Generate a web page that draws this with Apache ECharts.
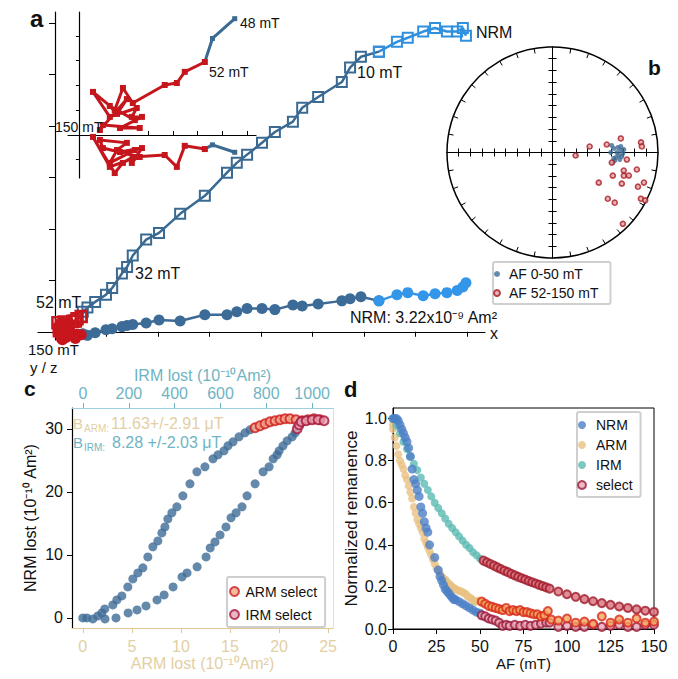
<!DOCTYPE html>
<html><head><meta charset="utf-8">
<script src="https://cdn.jsdelivr.net/npm/echarts/dist/echarts.min.js"></script>
<style>html,body{margin:0;padding:0;background:#fff}#c{width:678px;height:679px}</style>
</head><body><div id="c"></div>
<script>
// ---------- Panel a: Zijderveld (units: axis divisions) ----------
const xs = [7.98,7.92,7.81,7.61,7.38,7.15,6.85,6.64,6.29,5.94,5.73,5.57,5.11,4.80,4.62,4.27,4.02,3.73,3.53,3.34,2.91,2.43,2.02,1.77,1.51,1.40,1.30,1.11,0.99,0.78,0.63,0.54];
const zv = [5.75,5.90,5.83,5.83,5.90,5.83,5.71,5.63,5.44,5.34,5.13,4.85,4.56,4.35,4.08,3.88,3.67,3.44,3.28,3.09,2.64,2.29,1.92,1.79,1.48,1.26,1.13,0.85,0.72,0.58,0.47,0.39];
const yh = [0.95,0.87,0.80,0.76,0.74,0.70,0.76,0.72,0.60,0.68,0.64,0.60,0.54,0.50,0.52,0.43,0.45,0.45,0.39,0.33,0.33,0.21,0.23,0.17,0.14,0.12,0.10,0.06,0.04,-0.02,-0.07,-0.04];
const lightSteps = 9;
const redX = [0.509,0.428,0.396,0.347,0.218,0.178,0.145,0.057,0.125,0.234,0.214,0.255,0.166,0.246,0.097,0.085,0.194,0.154,0.125,0.226];
const redZ = [0.295,0.255,0.210,0.202,0.129,0.190,0.101,0.174,0.073,0.109,0.073,0.073,0.028,0.028,0.040,0.020,0.145,0.085,0.117,0.060];
const redY = [-0.057,-0.044,-0.129,-0.081,-0.089,-0.113,-0.154,-0.008,-0.129,-0.089,-0.113,-0.053,-0.069,-0.089,-0.053,-0.020,-0.032,-0.061,-0.113,-0.061];
const mainTicksX = [1,2,3,4,5,6,7,8];
const mainTicksY = [1,2,3,4,5,6];
const insetTicksX = [0.28,0.38,0.48,0.58,0.68];
const insetTicksY = [-0.1,0.1,0.2,0.3,0.4];

// ---------- Panel b: stereonet (declination, inclination) ----------
const blueDec = [86.2,85.6,88.3,92.6,94.5,95.6,85.0,90.8,90.0,96.0,90.0,83.2,93.3,97.4,99.5,87.6];
const blueInc = [37.6,34.1,31.7,33.4,35.8,37.5,31.5,30.0,35.1,32.3,40.3,39.1,30.8,36.4,37.9,29.1];
const redDec = [78.4,83.5,86.1,80.8,81.6,97.4,99.6,95.4,111.0,104.2,108.0,106.8,101.4,114.2,123.1,108.2,111.8,129.9,128.9,117.6,117.3,135.4];
const redInc = [30.5,14.0,13.6,57.9,43.2,70.1,38.7,26.3,34.9,27.3,26.0,22.0,16.6,25.2,42.9,7.9,11.5,28.5,21.8,4.9,1.0,4.5];
const stereoTicks = [-8,-7,-6,-5,-4,-3,-2,-1,1,2,3,4,5,6,7,8];

// ---------- Panel c ----------
const armLost = [0.0,0.41,1.02,1.53,1.94,2.24,3.06,3.47,3.98,4.59,5.10,5.61,6.12,6.63,7.14,7.65,8.06,8.37,8.67,9.08,9.59,10.20,10.92,11.63,12.45,13.27,13.78,14.39,14.80,15.31,15.92,16.53,17.04];
const nrmLostA = [0.0,0.0,-0.16,0.32,0.79,1.43,2.06,2.86,3.49,4.92,6.19,7.14,7.94,9.68,11.27,12.22,13.49,14.44,15.71,16.67,17.62,19.37,21.27,23.17,23.97,25.24,25.87,26.51,27.30,27.94,28.73,29.37,29.84];
const armSelX = [17.55,18.06,18.57,19.08,19.59,20.10,20.61,21.12,21.73,22.35,22.96,23.57,24.18];
const armSelY = [30.16,30.48,30.79,31.11,31.27,31.43,31.59,31.59,31.43,31.27,31.43,31.59,31.43];
const irmLost = [96,144,197,236,275,323,354,393,432,454,498,537,555,576,598,624,646,668,694,716,751,786,812,830,847,856,873,891,913,926];
const nrmLostI = [-0.16,0.0,0.79,1.27,1.90,2.86,3.65,4.92,6.51,7.14,8.10,9.68,11.11,12.06,13.17,14.44,15.87,16.67,17.62,19.37,21.27,23.17,23.97,25.24,25.87,26.51,27.30,28.10,28.73,29.37];
const irmSelX = [935,943,952,974,1000,1026,1052];
const irmSelY = [30.0,30.63,31.11,31.27,31.43,31.43,31.27];
const armTicks = [0,5,10,15,20,25];
const irmTicks = [0,200,400,600,800,1000];
const nrmTicks = [0,10,20,30];

// ---------- Panel d ----------
const dNrmAF = [0,1,2,3,4,5,6,7,8,9,10,11,12,13,14,15,16,17,18,19,20,21,24,26,27,28,29,30,31,32,33,34,35,36,38,40,42,44,46,48,50];
const dNrm = [1.0,1.0,1.0,0.99,0.97,0.95,0.93,0.91,0.89,0.86,0.82,0.76,0.71,0.69,0.66,0.63,0.58,0.55,0.51,0.48,0.46,0.40,0.34,0.28,0.25,0.23,0.21,0.19,0.18,0.17,0.16,0.15,0.14,0.14,0.13,0.12,0.11,0.10,0.09,0.08,0.075];
const dArmAF = [0,0,1,2,3,4,5,6,7,8,9,10,11,12,13,14,15,16,17,18,19,20,21,22,23,24,25,26,27,28,29,30,31,32,33,34,35,36,37,38,39,40,41,42,43,44,45,46,47,48,49,50];
const dArm = [0.97,0.95,0.91,0.87,0.83,0.80,0.78,0.76,0.73,0.71,0.68,0.65,0.62,0.58,0.55,0.52,0.50,0.48,0.46,0.43,0.41,0.39,0.37,0.35,0.33,0.31,0.29,0.28,0.265,0.25,0.24,0.235,0.225,0.215,0.21,0.20,0.195,0.19,0.185,0.18,0.18,0.175,0.17,0.165,0.155,0.15,0.145,0.135,0.13,0.13,0.135,0.13];
const dIrmAF = [0,2,4,6,8,10,12,14,16,18,20,22,24,26,28,30,32,34,36,38,40,42,44,46,48,50];
const dIrm = [1.00,0.965,0.93,0.89,0.855,0.82,0.785,0.755,0.72,0.69,0.66,0.63,0.60,0.575,0.55,0.525,0.50,0.48,0.46,0.44,0.42,0.40,0.385,0.365,0.35,0.335];
const dNrmSelAF = [51,53,55,57,59,61,63,65,67,70,73,76,79,82,85,88,90,95,100,105,110,115,120,125,130,135,140,145,150];
const dNrmSel = [0.065,0.06,0.05,0.045,0.04,0.03,0.015,0.02,0.015,0.02,0.015,0.02,0.015,0.02,0.025,0.03,0.03,0.01,0.015,0.01,0.01,0.02,0.01,0.015,0.02,0.01,0.01,0.02,0.02];
const dArmSelAF = [51,53,55,57,59,61,63,65,67,69,71,73,75,77,79,81,83,85,87,89,91,95,100,105,110,115,120,125,130,135,140,145,150];
const dArmSel = [0.13,0.12,0.11,0.105,0.1,0.095,0.09,0.1,0.085,0.09,0.085,0.09,0.08,0.08,0.075,0.07,0.07,0.06,0.065,0.085,0.045,0.04,0.05,0.03,0.035,0.025,0.06,0.03,0.045,0.03,0.05,0.03,0.035];
const dIrmSelAF = [52,54,56,58,60,62,64,66,68,70,72,74,76,78,80,82,84,86,88,90,95,100,105,110,115,120,125,130,135,140,145,150];
const dIrmSel = [0.325,0.317,0.309,0.301,0.293,0.285,0.277,0.27,0.262,0.255,0.248,0.241,0.235,0.228,0.222,0.216,0.21,0.204,0.198,0.192,0.178,0.165,0.153,0.142,0.132,0.123,0.115,0.107,0.1,0.093,0.087,0.081];
const dYTicks = [0,0.2,0.4,0.6,0.8,1.0];

// ---------- build ----------
const zip = (a,b) => a.map((v,i)=>[v,b[i]]);
const FONT = 'Liberation Sans, Arial, sans-serif';
const darkSq = '#3a6a92', lightSq = '#2f90e0', darkCi = '#3d6b97', lightCi = '#3396e8', RED = '#c8161d';
const TAN = '#e2c994', TANT = '#e3cfa3', TEAL = '#6fb4c3';
const NONE = 'rgba(255,255,255,0)';
const n = xs.length;

function hideAx(o){return Object.assign({type:'value',axisLabel:{show:false},splitLine:{show:false}},o);}

const vert = zip(xs,zv), horiz = zip(xs,yh);
const redV = zip(redX,redZ), redH = zip(redX,redY);

const series = [
  // main panel a
  {type:'line',xAxisIndex:0,yAxisIndex:0,data:vert.slice(lightSteps-1).concat([redV[0]]),symbol:'rect',symbolSize:10,
   lineStyle:{color:darkSq,width:2.5},itemStyle:{color:NONE,borderColor:darkSq,borderWidth:2}},
  {type:'line',xAxisIndex:0,yAxisIndex:0,data:vert.slice(0,lightSteps),symbol:'rect',symbolSize:10,
   lineStyle:{color:lightSq,width:2.5},itemStyle:{color:NONE,borderColor:lightSq,borderWidth:2}},
  {type:'line',xAxisIndex:0,yAxisIndex:0,data:horiz.slice(lightSteps-1).concat([redH[0]]),symbol:'circle',symbolSize:11,
   lineStyle:{color:darkCi,width:2.5},itemStyle:{color:darkCi}},
  {type:'line',xAxisIndex:0,yAxisIndex:0,data:horiz.slice(0,lightSteps),symbol:'circle',symbolSize:11,
   lineStyle:{color:lightCi,width:2.5},itemStyle:{color:lightCi}},
  {type:'line',xAxisIndex:0,yAxisIndex:0,data:redH,symbol:'circle',symbolSize:11,
   lineStyle:{color:RED,width:3},itemStyle:{color:RED}},
  {type:'line',xAxisIndex:0,yAxisIndex:0,data:redV,symbol:'rect',symbolSize:11,
   lineStyle:{color:RED,width:3},itemStyle:{color:NONE,borderColor:RED,borderWidth:2.5}},
  // inset
  {type:'line',xAxisIndex:1,yAxisIndex:1,data:[vert[n-2],vert[n-1],redV[0]],symbol:'rect',symbolSize:5,
   lineStyle:{color:darkSq,width:3},itemStyle:{color:darkSq}},
  {type:'line',xAxisIndex:1,yAxisIndex:1,data:[horiz[n-2],horiz[n-1],redH[0]],symbol:'rect',symbolSize:5,
   lineStyle:{color:darkSq,width:3},itemStyle:{color:darkSq}},
  {type:'line',xAxisIndex:1,yAxisIndex:1,data:redV,symbol:'rect',symbolSize:6,
   lineStyle:{color:'#c4161c',width:3},itemStyle:{color:'#c4161c'}},
  {type:'line',xAxisIndex:1,yAxisIndex:1,data:redH,symbol:'rect',symbolSize:6,
   lineStyle:{color:'#c4161c',width:3},itemStyle:{color:'#c4161c'}},
  // stereonet
  {name:'AF 0-50 mT',type:'scatter',coordinateSystem:'polar',polarIndex:0,data:zip(blueInc,blueDec),symbolSize:5,
   itemStyle:{color:'#3f6c95'}},
  {name:'AF 52-150 mT',type:'scatter',coordinateSystem:'polar',polarIndex:0,data:zip(redInc,redDec),symbolSize:5,
   itemStyle:{color:'#e7a3a3',borderColor:'#a81c24',borderWidth:1.6}},
  // panel c
  {name:'ARM curve',type:'scatter',xAxisIndex:4,yAxisIndex:4,data:zip(armLost,nrmLostA),symbolSize:9,itemStyle:{color:'#3d6b96'}},
  {name:'IRM curve',type:'scatter',xAxisIndex:5,yAxisIndex:4,data:zip(irmLost,nrmLostI),symbolSize:9,itemStyle:{color:'#3d6b96'}},
  {name:'ARM select',type:'scatter',xAxisIndex:4,yAxisIndex:4,data:zip(armSelX,armSelY),symbolSize:9,
   itemStyle:{color:'#f2a88c',borderColor:'#cf1c1c',borderWidth:2}},
  {name:'IRM select',type:'scatter',xAxisIndex:5,yAxisIndex:4,data:zip(irmSelX,irmSelY),symbolSize:9,
   itemStyle:{color:'#e8a3b2',borderColor:'#a5163e',borderWidth:2}},
  // panel d
  {name:'ARM',type:'scatter',xAxisIndex:6,yAxisIndex:6,data:zip(dArmAF,dArm),symbolSize:8,itemStyle:{color:'#e8c283'}},
  {name:'IRM',type:'scatter',xAxisIndex:6,yAxisIndex:6,data:zip(dIrmAF,dIrm),symbolSize:8,itemStyle:{color:'#5dbab3'}},
  {name:'NRM',type:'scatter',xAxisIndex:6,yAxisIndex:6,data:zip(dNrmAF,dNrm),symbolSize:9,itemStyle:{color:'#4c7fc6'}},
  {name:'select',type:'scatter',xAxisIndex:6,yAxisIndex:6,data:zip(dNrmSelAF,dNrmSel),symbolSize:8,
   itemStyle:{color:'#eba6b6',borderColor:'#9a1b3b',borderWidth:2}},
  {name:'select',type:'scatter',xAxisIndex:6,yAxisIndex:6,data:zip(dArmSelAF,dArmSel),symbolSize:8,
   itemStyle:{color:'#f4a55e',borderColor:'#d82a1c',borderWidth:2}},
  {name:'select',type:'scatter',xAxisIndex:6,yAxisIndex:6,data:zip(dIrmSelAF,dIrmSel),symbolSize:8,
   itemStyle:{color:'#d9717c',borderColor:'#a01b2b',borderWidth:2}}
];

function txt(x,y,s,size,o){o=o||{};return {type:'text',x:x,y:y,z:100,style:{text:s,fontSize:size,fontFamily:FONT,
  fontWeight:o.w||'normal',fill:o.c||'#111',align:o.a||'left',verticalAlign:'middle'}};}

const graphics = [
  txt(30,18,'a',24,{w:'bold'}), txt(648,67,'b',21,{w:'bold'}), txt(24,388,'c',21,{w:'bold'}), txt(344,389,'d',22,{w:'bold'}),
  txt(240,23,'48 mT',14), txt(209,72,'52 mT',14), txt(55,127,'150 mT',14),
  txt(476,32,'NRM',16), txt(357,72,'10 mT',16), txt(135,273,'32 mT',16), txt(36,302,'52 mT',16),
  txt(28,349,'150 mT',15), txt(30,367,'y / z',15), txt(490,333,'x',16),
  txt(497,317,'NRM: 3.22x10\u207B\u2079 Am\u00B2',16,{a:'right'}),
  txt(73,423,'B',15,{c:TANT}), txt(84,428,'ARM:',10,{c:TANT}), txt(111,423,'11.63+/-2.91 \u03BCT',16,{c:TANT}),
  txt(73,442,'B',15,{c:TEAL}), txt(84,447,'IRM:',10,{c:TEAL}), txt(112,442,'8.28 +/-2.03 \u03BCT',16,{c:TEAL})
];

const legBase = {orient:'vertical',icon:'circle',borderColor:'#cfcfcf',borderWidth:2,borderRadius:2,backgroundColor:'#fff',
  textStyle:{fontSize:14,fontFamily:FONT,color:'#111'},selectedMode:false};

const option = {
  animation:false, backgroundColor:'#fff', textStyle:{fontFamily:FONT},
  grid:[
    {left:38,top:12,width:447,height:328},
    {left:68,top:12,width:188,height:166},
    {left:447,top:47,width:211,height:211},
    {left:72,top:408,width:261,height:220},
    {left:393,top:408,width:261,height:221,show:true,borderColor:'#000',borderWidth:1}
  ],
  polar:{center:[552.5,152.5],radius:105.5},
  angleAxis:{type:'value',min:0,max:360,interval:10,startAngle:90,clockwise:true,
    axisLine:{lineStyle:{color:'#000',width:1.5}},axisTick:{inside:true,length:5,lineStyle:{color:'#000'}},
    axisLabel:{show:false},splitLine:{show:false}},
  radiusAxis:{type:'value',min:0,max:90,inverse:true,axisLine:{show:false},axisTick:{show:false},axisLabel:{show:false},splitLine:{show:false}},
  xAxis:[
    hideAx({gridIndex:0,min:-0.33,max:8.35,axisLine:{onZero:true,lineStyle:{color:'#000',width:1.2}},
      axisTick:{customValues:mainTicksX,length:5,lineStyle:{color:'#000'}}}),
    hideAx({gridIndex:1,min:-0.044,max:0.716,axisLine:{onZero:true,lineStyle:{color:'#000',width:1.2}},
      axisTick:{customValues:insetTicksX,inside:true,length:4,lineStyle:{color:'#000'}}}),
    hideAx({gridIndex:2,min:-9,max:9,position:'bottom',axisLine:{onZero:true,lineStyle:{color:'#000'}},
      axisTick:{customValues:stereoTicks,length:4,lineStyle:{color:'#000'}}}),
    hideAx({gridIndex:2,min:-9,max:9,position:'top',axisLine:{onZero:true,lineStyle:{color:'#000'}},
      axisTick:{customValues:stereoTicks,length:4,lineStyle:{color:'#000'}}}),
    {type:'value',gridIndex:3,position:'bottom',min:-1.1,max:25.5,splitLine:{show:false},
      axisLine:{onZero:false,lineStyle:{color:TAN,width:1.2}},
      axisTick:{customValues:armTicks,length:5,lineStyle:{color:TAN}},
      axisLabel:{customValues:armTicks,color:TANT,fontSize:16,margin:10},
      name:'ARM lost (10\u207B\u00B9\u2070Am\u00B2)',nameLocation:'middle',nameGap:27,nameTextStyle:{color:TANT,fontSize:16}},
    {type:'value',gridIndex:3,position:'top',min:-48,max:1091,splitLine:{show:false},
      axisLine:{onZero:false,lineStyle:{color:'#9fcfdb',width:1.2}},
      axisTick:{customValues:irmTicks,length:5,lineStyle:{color:TEAL}},
      axisLabel:{customValues:irmTicks,color:TEAL,fontSize:16,margin:7,formatter:v=>String(v)},
      name:'IRM lost (10\u207B\u00B9\u2070Am\u00B2)',nameLocation:'middle',nameGap:25,nameTextStyle:{color:TEAL,fontSize:16}},
    {type:'value',gridIndex:4,min:0,max:150,interval:25,splitLine:{show:false},
      axisLine:{onZero:false,lineStyle:{color:'#000'}},axisTick:{length:5,lineStyle:{color:'#000'}},
      axisLabel:{color:'#111',fontSize:16,margin:9},
      name:'AF (mT)',nameLocation:'middle',nameGap:27,nameTextStyle:{color:'#111',fontSize:15}}
  ],
  yAxis:[
    hideAx({gridIndex:0,min:-0.16,max:6.21,axisLine:{onZero:true,lineStyle:{color:'#000',width:1.2}},
      axisTick:{customValues:mainTicksY,length:6,lineStyle:{color:'#000'}}}),
    hideAx({gridIndex:1,min:-0.174,max:0.497,axisLine:{onZero:true,lineStyle:{color:'#000',width:1.2}},
      axisTick:{customValues:insetTicksY,length:3,lineStyle:{color:'#000'}}}),
    hideAx({gridIndex:2,min:-9,max:9,position:'left',axisLine:{onZero:true,lineStyle:{color:'#000'}},
      axisTick:{customValues:stereoTicks,length:4,lineStyle:{color:'#000'}}}),
    hideAx({gridIndex:2,min:-9,max:9,position:'right',axisLine:{onZero:true,lineStyle:{color:'#000'}},
      axisTick:{customValues:stereoTicks,length:4,lineStyle:{color:'#000'}}}),
    {type:'value',gridIndex:3,position:'left',min:-1.6,max:33.3,splitLine:{show:false},
      axisLine:{show:true,onZero:false,lineStyle:{color:'#000',width:1.2}},
      axisTick:{show:true,customValues:nrmTicks,length:5,lineStyle:{color:'#000'}},
      axisLabel:{customValues:nrmTicks,color:'#111',fontSize:16,margin:9},
      name:'NRM lost (10\u207B\u00B9\u2070 Am\u00B2)',nameLocation:'middle',nameGap:34,nameTextStyle:{color:'#111',fontSize:16}},
    {type:'value',gridIndex:3,position:'right',min:-1.6,max:33.3,splitLine:{show:false},
      axisLine:{show:true,onZero:false,lineStyle:{color:'#d3e4e9',width:1}},axisTick:{show:false},axisLabel:{show:false}},
    {type:'value',gridIndex:4,min:0,max:1.05,splitLine:{show:false},
      axisLine:{show:true,onZero:false,lineStyle:{color:'#000'}},
      axisTick:{show:true,customValues:dYTicks,length:5,lineStyle:{color:'#000'}},
      axisLabel:{customValues:dYTicks,color:'#111',fontSize:16,margin:6,formatter:v=>v.toFixed(1)},
      name:'Normalized remanence',nameLocation:'middle',nameGap:33,nameTextStyle:{color:'#111',fontSize:17}}
  ],
  legend:[
    Object.assign({},legBase,{data:['AF 0-50 mT','AF 52-150 mT'],left:493,top:262,itemWidth:14,itemHeight:6,itemGap:3,
      padding:[4,12,3,0],textStyle:Object.assign({},legBase.textStyle,{lineHeight:16})}),
    Object.assign({},legBase,{data:['ARM select','IRM select'],left:227,top:577,itemWidth:12,itemHeight:9,itemGap:6,
      padding:[6,8,4,2],textStyle:Object.assign({},legBase.textStyle,{lineHeight:17})}),
    Object.assign({},legBase,{data:['NRM','ARM','IRM','select'],left:577,top:412,itemWidth:18,itemHeight:8,itemGap:4,
      padding:[5,8,4,0],textStyle:Object.assign({},legBase.textStyle,{lineHeight:16})})
  ],
  graphic:graphics,
  series:series
};

const chart = echarts.init(document.getElementById('c'),null,{renderer:'svg',width:678,height:679});
chart.setOption(option);
</script></body></html>
